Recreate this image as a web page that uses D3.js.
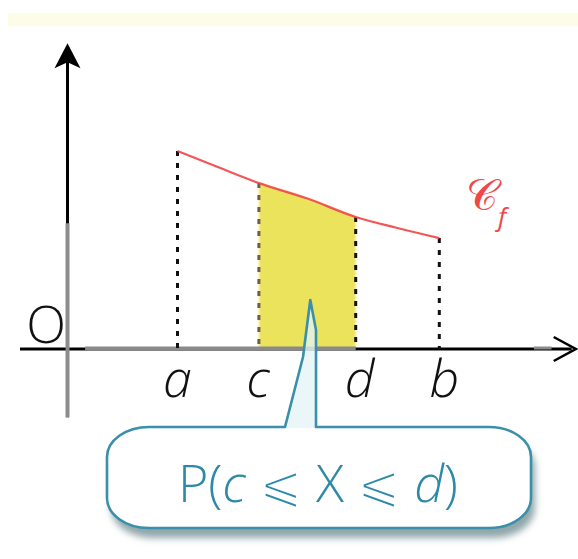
<!DOCTYPE html>
<html>
<head>
<meta charset="utf-8">
<script src="https://cdn.jsdelivr.net/npm/d3@7"></script>
<style>
  html, body { margin: 0; padding: 0; background: #ffffff; }
  svg { display: block; }
</style>
</head>
<body>
<div id="chart"></div>
<script>
// Density curve of X over [a, b], with the probability P(c <= X <= d) shaded.
const tickLabels = ["a", "c", "d", "b"];
const tickValues = [2.5, 4.35, 6.55, 8.45];
const curveX = [2.5, 3.4, 4.35, 5.45, 6.55, 7.5, 8.45];
const curveY = [4.5, 4.14, 3.77, 3.42, 3.0, 2.75, 2.52];
const shadedFrom = 4.35, shadedTo = 6.55;
const xAxisExtent = [-1.08, 11.55];
const yAxisExtent = [-1.55, 6.95];

const W = 578, H = 559;
const svg = d3.select("#chart").append("svg")
  .attr("width", W).attr("height", H)
  .attr("viewBox", `0 0 ${W} ${H}`);

const x = d3.scaleLinear().domain([0, 10]).range([67.5, 507.5]);
const y = d3.scaleLinear().domain([0, 7]).range([349, 41]);

const defs = svg.append("defs");
const soft = defs.append("filter").attr("id", "soft")
  .attr("x", "-10%").attr("y", "-10%").attr("width", "120%").attr("height", "120%");
soft.append("feGaussianBlur").attr("stdDeviation", 1.2);

const shadow = defs.append("filter").attr("id", "shadow")
  .attr("x", "-10%").attr("y", "-20%").attr("width", "125%").attr("height", "150%");
shadow.append("feDropShadow").attr("dx", 4).attr("dy", 10).attr("stdDeviation", 3.5)
  .attr("flood-color", "#8aa2a6").attr("flood-opacity", 0.95);

// pale band along the top
svg.append("rect").attr("x", 8).attr("y", 13).attr("width", W - 8).attr("height", 13)
  .attr("fill", "#fdfce6");

const pts = curveX.map((v, i) => ({ x: v, y: curveY[i] }));

// shaded area between c and d
const shaded = pts.filter(p => p.x >= shadedFrom && p.x <= shadedTo);
svg.append("path")
  .datum(shaded)
  .attr("d", d3.area().x(p => x(p.x)).y0(y(0)).y1(p => y(p.y)).curve(d3.curveMonotoneX))
  .attr("fill", "#ebe35c")
  .attr("filter", "url(#soft)");

// axes
const axisG = svg.append("g");
axisG.append("line")
  .attr("x1", x(xAxisExtent[0])).attr("x2", x(xAxisExtent[1]) - 4)
  .attr("y1", y(0)).attr("y2", y(0))
  .attr("stroke", "#000").attr("stroke-width", 3);
axisG.append("line")
  .attr("x1", x(0.4)).attr("x2", x(shadedTo))
  .attr("y1", y(0) - 0.5).attr("y2", y(0) - 0.5)
  .attr("stroke", "#8a8a8a").attr("stroke-width", 4);
axisG.append("line")
  .attr("x1", x(10.6)).attr("x2", x(11.0))
  .attr("y1", y(0) - 1).attr("y2", y(0) - 1)
  .attr("stroke", "#8a8a8a").attr("stroke-width", 3);
axisG.append("line")
  .attr("x1", x(0)).attr("x2", x(0))
  .attr("y1", y(yAxisExtent[1]) + 6).attr("y2", y(yAxisExtent[0]))
  .attr("stroke", "#000").attr("stroke-width", 3);
axisG.append("line")
  .attr("x1", x(0)).attr("x2", x(0))
  .attr("y1", y(2.86)).attr("y2", y(yAxisExtent[0]))
  .attr("stroke", "#8c8c8c").attr("stroke-width", 4);

// arrowheads
const xe = x(xAxisExtent[1]), ye = y(yAxisExtent[1]);
axisG.append("path")
  .attr("d", `M${xe - 22},${y(0) - 12} L${xe},${y(0)} L${xe - 22},${y(0) + 12}`)
  .attr("fill", "none").attr("stroke", "#000").attr("stroke-width", 2.5);
axisG.append("path")
  .attr("d", `M${x(0)},${ye} L${x(0) + 13},${ye + 25} L${x(0)},${ye + 19} L${x(0) - 13},${ye + 25} Z`)
  .attr("fill", "#000");

// dashed verticals at a, c, d, b
svg.append("g").selectAll("line")
  .data(tickValues)
  .join("line")
  .attr("x1", v => x(v)).attr("x2", v => x(v))
  .attr("y1", v => y(curveY[curveX.indexOf(v)]))
  .attr("y2", y(0))
  .attr("stroke", (v, i) => (i === 1 ? "#6a5e4e" : "#111"))
  .attr("stroke-width", 3)
  .attr("stroke-dasharray", "5,7");

// density curve
svg.append("path")
  .datum(pts)
  .attr("d", d3.line().x(p => x(p.x)).y(p => y(p.y)).curve(d3.curveMonotoneX))
  .attr("fill", "none")
  .attr("stroke", "#ef4545")
  .attr("stroke-width", 2.2)
  .attr("stroke-opacity", 0.9);

// curve name
const cname = svg.append("text")
  .attr("x", 466).attr("y", 210)
  .attr("fill", "#f04848")
  .style("font-family", "'DejaVu Serif', 'Noto Sans', serif")
  .style("font-size", "44px");
cname.append("tspan").text("𝒞");
cname.append("tspan").attr("dy", 16).style("font-size", "26px")
  .style("font-family", "'Open Sans', sans-serif").style("font-style", "italic")
  .text("f");

// origin and tick labels
svg.append("text")
  .attr("x", 46).attr("y", 343)
  .attr("text-anchor", "middle")
  .style("font-family", "'Open Sans', sans-serif")
  .style("font-weight", 300)
  .style("font-size", "52px")
  .attr("fill", "#111")
  .text("O");

svg.append("g").selectAll("text")
  .data(tickValues)
  .join("text")
  .attr("x", (v, i) => x(v) + [0, -1, 4, 5][i])
  .attr("y", 397)
  .attr("text-anchor", "middle")
  .style("font-family", "'Open Sans', sans-serif")
  .style("font-style", "italic")
  .style("font-weight", 300)
  .style("font-size", "52px")
  .attr("fill", "#111")
  .text((v, i) => tickLabels[i]);

// callout
const L = 107, R = 531, T = 427, B = 528, rx = 42, ry = 30;
const tipX = x((shadedFrom + shadedTo) / 2) + 3, tipY = 300;
const xl = 285, xr = 316;

svg.append("path")
  .attr("d", `M${L + rx},${T} H${R - rx} A${rx},${ry} 0 0 1 ${R},${T + ry} V${B - ry}
    A${rx},${ry} 0 0 1 ${R - rx},${B} H${L + rx} A${rx},${ry} 0 0 1 ${L},${B - ry}
    V${T + ry} A${rx},${ry} 0 0 1 ${L + rx},${T} Z`)
  .attr("fill", "#fff")
  .attr("filter", "url(#shadow)");

svg.append("path")
  .attr("d", `M${xl},${T + 1} L${xl + 18},${T - 70} L${tipX},${tipY} L${xr},${tipY + 30} L${xr},${T + 1} Z`)
  .attr("fill", "#e4f3f7").attr("fill-opacity", 0.75);

svg.append("path")
  .attr("d", `M${L + rx},${T} H${xl} L${xl + 18},${T - 70} L${tipX},${tipY} L${xr},${tipY + 30} L${xr},${T}
    H${R - rx} A${rx},${ry} 0 0 1 ${R},${T + ry} V${B - ry}
    A${rx},${ry} 0 0 1 ${R - rx},${B} H${L + rx} A${rx},${ry} 0 0 1 ${L},${B - ry}
    V${T + ry} A${rx},${ry} 0 0 1 ${L + rx},${T} Z`)
  .attr("fill", "none")
  .attr("stroke", "#3a8fab")
  .attr("stroke-width", 2.6)
  .attr("stroke-linejoin", "round");

const ptxt = svg.append("text")
  .attr("x", 178).attr("y", 502)
  .attr("textLength", 280).attr("lengthAdjust", "spacing")
  .attr("fill", "#2c8aa8")
  .style("font-family", "'Open Sans', 'DejaVu Sans', sans-serif")
  .style("font-weight", 300)
  .style("font-size", "52px");
ptxt.append("tspan").text("P(");
ptxt.append("tspan").style("font-style", "italic").text("c");
// the relation signs come from a heavier fallback face; a white edge thins them
ptxt.append("tspan").attr("stroke", "#fff").attr("stroke-width", 2.2).text(" ⩽ ");
ptxt.append("tspan").text("X");
ptxt.append("tspan").attr("stroke", "#fff").attr("stroke-width", 2.2).text(" ⩽ ");
ptxt.append("tspan").style("font-style", "italic").text("d");
ptxt.append("tspan").text(")");
</script>
</body>
</html>
